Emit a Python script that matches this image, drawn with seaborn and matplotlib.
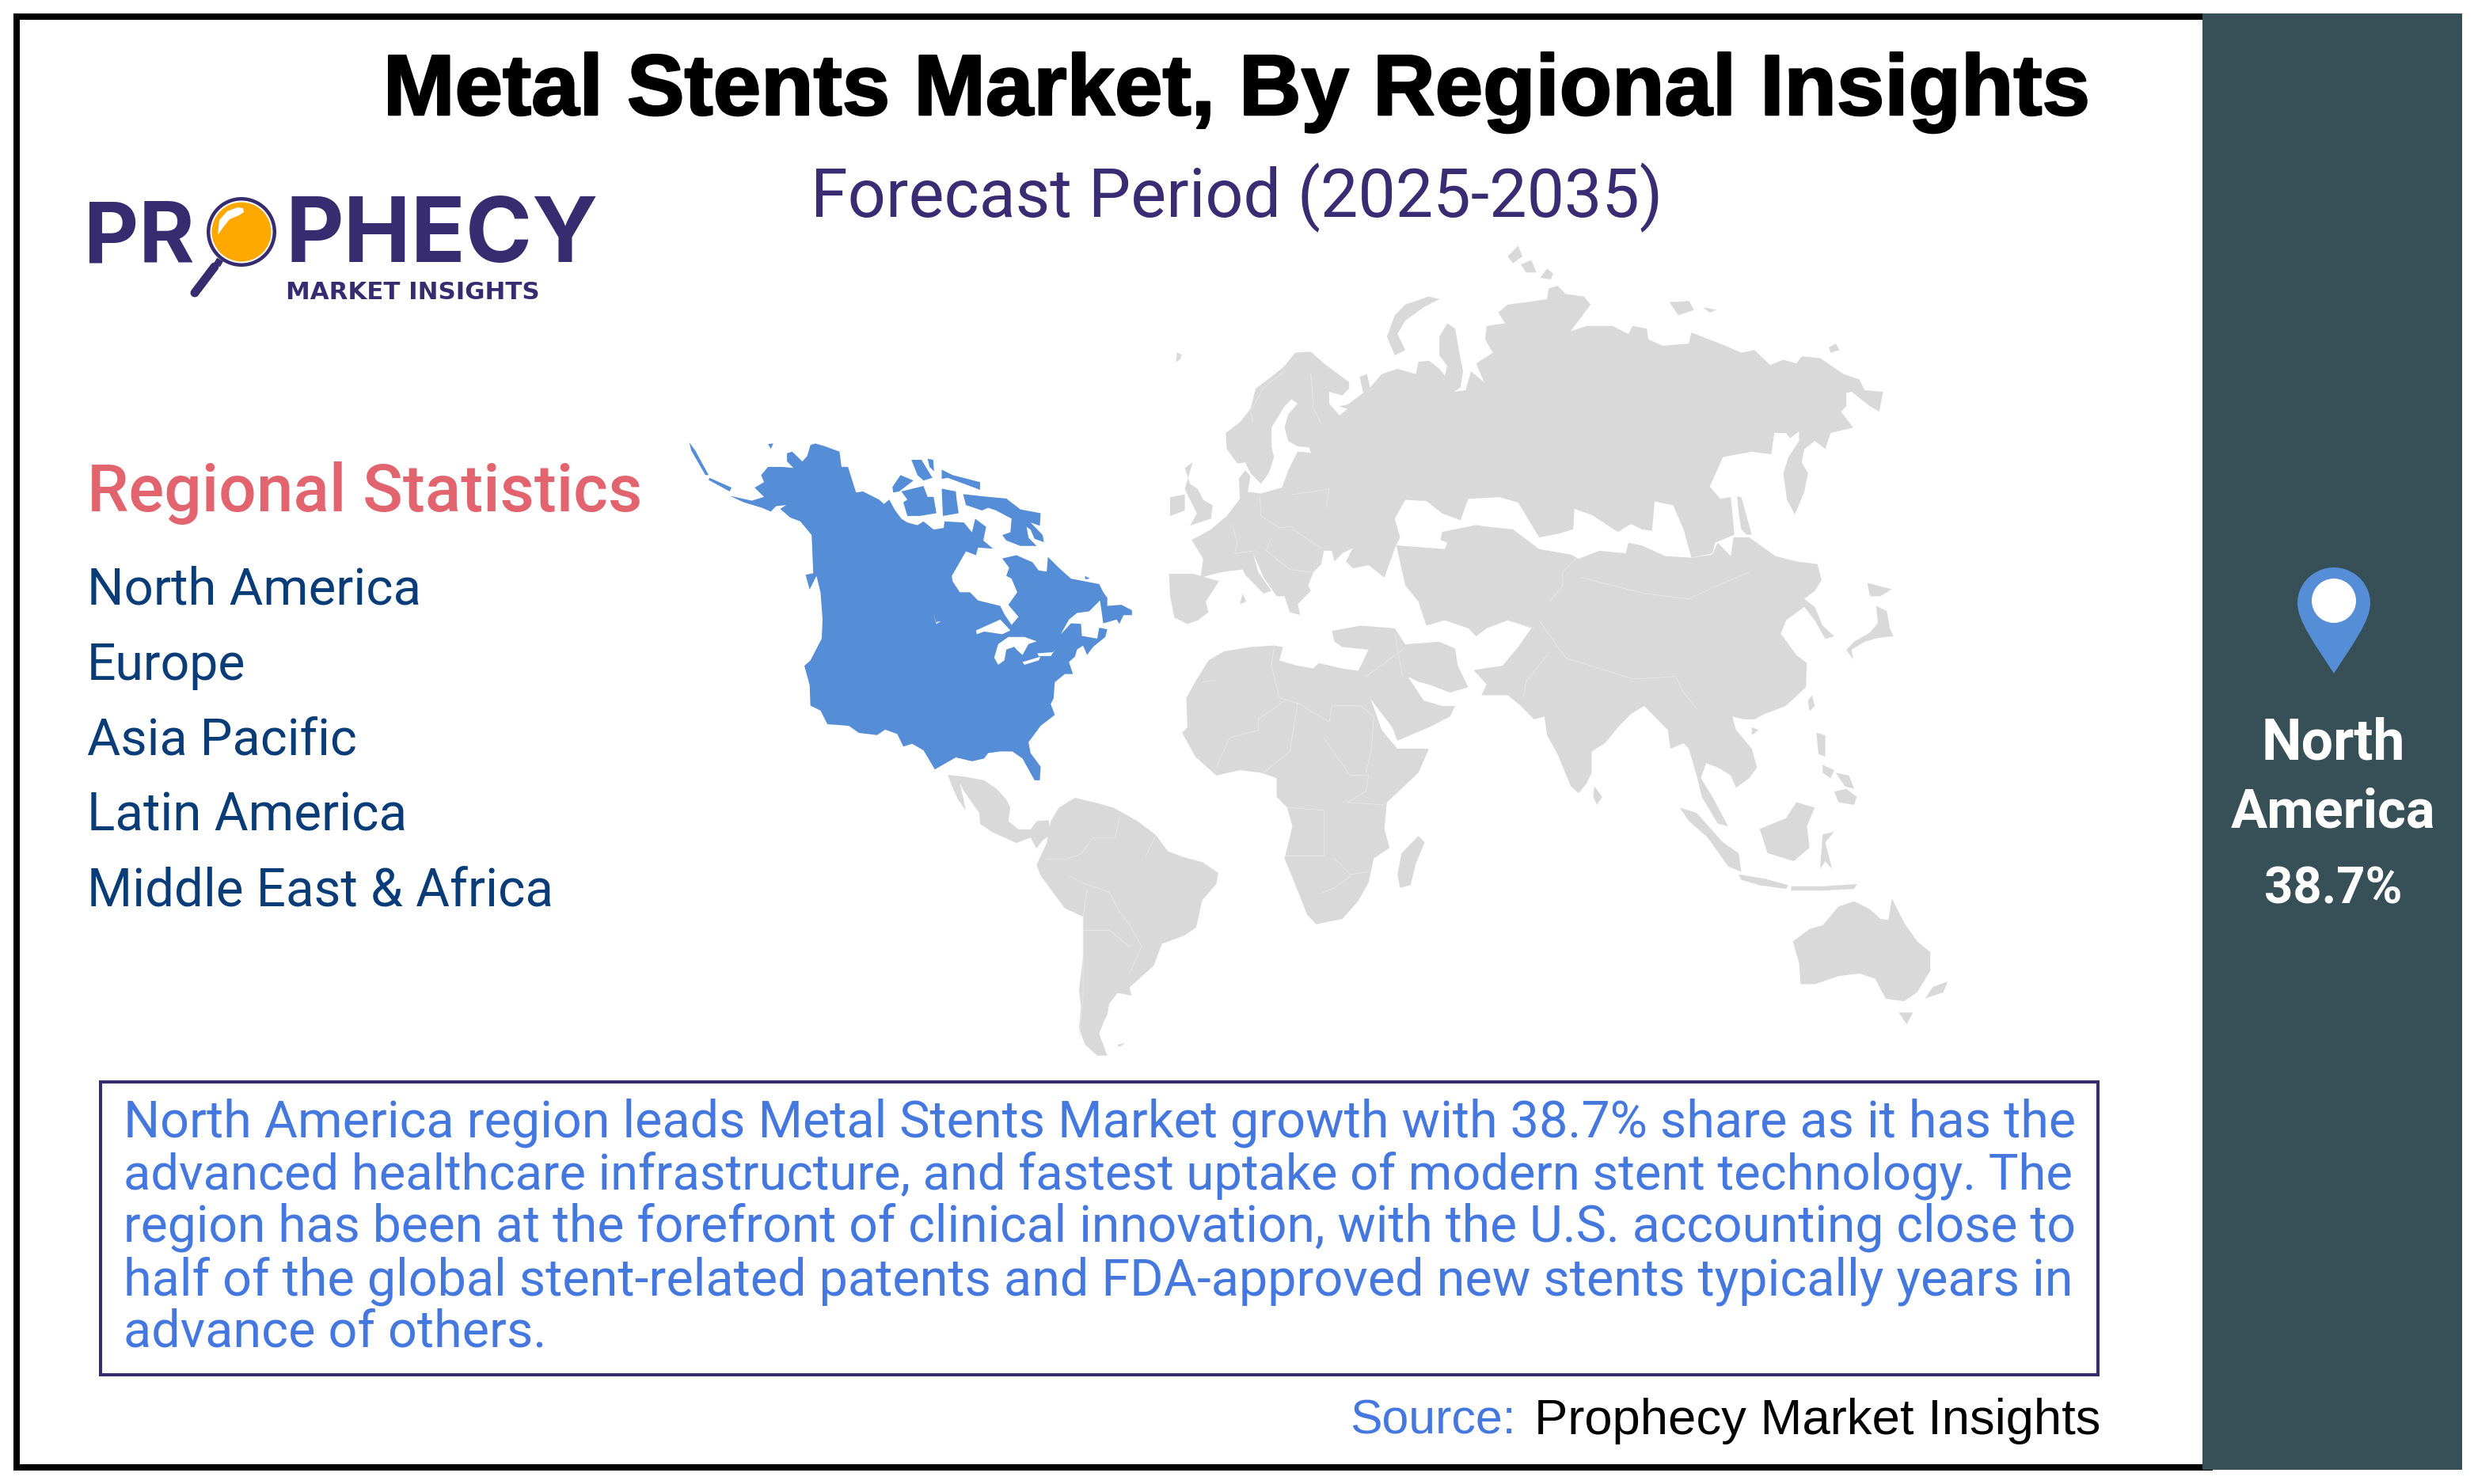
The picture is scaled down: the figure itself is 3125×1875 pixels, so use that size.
import numpy as np
import seaborn as sns
import matplotlib.pyplot as plt
from matplotlib.patches import Rectangle, Circle, PathPatch
from matplotlib.path import Path
import matplotlib.patheffects as pe

TITLE = 'Metal Stents Market, By Regional Insights'
SUBTITLE = 'Forecast Period (2025-2035)'
STATS_HEAD = 'Regional Statistics'
REGIONS = ['North America', 'Europe', 'Asia Pacific', 'Latin America', 'Middle East & Africa']
LEAD_REGION = ['North', 'America']
LEAD_SHARE = '38.7%'
BODY = ['North America region leads Metal Stents Market growth with 38.7% share as it has the',
        'advanced healthcare infrastructure, and fastest uptake of modern stent technology. The',
        'region has been at the forefront of clinical innovation, with the U.S. accounting close to',
        'half of the global stent-related patents and FDA-approved new stents typically years in',
        'advance of others.']

# map outlines (two crops, see to_west / to_east)
NORTH_AMERICA = [(160,503),(215,512),(245,505),(222,488),(245,478),(238,465),(255,450),(290,450),(318,452),(302,440),(302,425),(315,422),(340,440),(352,430),(360,410),(372,407),(395,412),(432,422),(437,450),(453,450),(473,497),(490,495),(530,510),(542,518),(555,510),(570,530),(585,545),(600,552),(625,557),(640,550),(665,565),(690,562),(692,550),(740,552),(760,570),(768,545),(795,560),(788,585),(812,600),(775,598),(770,612),(745,605),(710,650),(712,660),(730,680),(755,680),(775,695),(830,705),(840,720),(858,740),(875,725),(850,703),(872,680),(858,655),(845,650),(852,635),(835,618),(870,612),(910,625),(925,640),(945,642),(948,615),(975,635),(1005,655),(1040,660),(1075,665),(1085,680),(1095,690),(1095,705),(1130,703),(1156,713),(1156,722),(1135,722),(1125,738),(1118,730),(1085,737),(1077,695),(1050,715),(1020,718),(1000,730),(980,757),(1005,737),(1030,738),(1032,760),(1070,765),(1075,745),(1095,748),(1090,762),(1060,780),(1045,795),(1035,778),(1020,785),(1015,798),(1000,808),(1010,830),(990,830),(965,845),(962,875),(955,885),(965,905),(930,925),(900,955),(905,975),(930,1000),(928,1025),(915,1025),(885,985),(860,972),(830,972),(800,975),(790,985),(760,990),(720,983),(668,1005),(640,970),(612,958),(590,963),(575,940),(545,932),(525,942),(480,938),(455,925),(402,922),(385,897),(360,888),(358,850),(345,815),(360,805),(388,765),(390,730),(385,680),(375,650),(358,675),(348,648),(367,645),(363,575),(335,550),(310,543),(285,527),(300,520),(275,522),(262,532),(240,525),(195,515)]
NA_ISLANDS = [[(60,405),(75,420),(108,465),(100,465),(65,420)],
              [(110,470),(165,488),(160,495),(108,474)],
              [(738,500),(800,505),(845,508),(880,528),(930,535),(928,558),(905,552),(935,575),(938,588),(915,582),(905,565),(895,560),(900,580),(920,595),(880,595),(845,585),(835,575),(855,570),(858,545),(820,530),(800,525),(785,530),(745,520)],
              [(585,495),(640,485),(650,505),(665,505),(672,535),(630,540),(600,540),(590,515),(600,510)],
              [(563,487),(583,465),(615,475),(580,495),(565,497)],
              [(610,437),(635,437),(662,470),(640,475),(625,465)],
              [(650,435),(664,437),(666,458),(655,450)],
              [(685,455),(712,465),(780,478),(780,492),(700,470),(685,472)],
              [(685,490),(720,495),(722,510),(727,535),(688,540)],
              [(255,408),(268,407),(262,417)],
              [(1040,650),(1052,655),(1040,656)]]
NA_LAKES = [[(770,750),(800,740),(830,730),(855,750),(835,757),(790,752),(772,757)],
            [(815,800),(825,775),(850,762),(890,762),(920,770),(900,775),(885,795),(870,785),(865,780),(845,785),(840,805),(825,813)],
            [(885,808),(930,798),(925,805),(890,813)],
            [(922,792),(960,790),(966,785),(955,797),(925,797)],
            [(665,720),(670,735),(683,733),(672,738)]]
LATIN_AMERICA = [[(700,1015),(740,1018),(790,1025),(820,1040),(845,1060),(855,1075),(850,1100),(875,1115),(905,1115),(920,1100),(950,1098),(955,1125),(935,1135),(920,1150),(905,1130),(870,1140),(810,1120),(780,1105),(778,1085),(740,1045),(730,1030),(745,1080),(725,1060),(710,1035)],
                 [(955,1100),(975,1075),(1015,1057),(1060,1065),(1110,1075),(1170,1100),(1215,1125),(1245,1155),(1280,1165),(1330,1175),(1370,1195),(1365,1215),(1330,1245),(1315,1295),(1285,1310),(1230,1325),(1210,1365),(1165,1395),(1150,1405),(1155,1420),(1120,1415),(1100,1435),(1095,1455),(1085,1470),(1075,1490),(1090,1520),(1095,1530),(1070,1530),(1040,1510),(1025,1480),(1030,1440),(1025,1410),(1035,1350),(1035,1275),(990,1260),(960,1230),(930,1200),(920,1180),(945,1140)],
                 [(1120,1510),(1140,1507),(1125,1514)],
                 [(1268,240),(1280,245),(1265,258)]]
LATIN_BORDERS = [[(1000,1200),(1040,1215),(1100,1230),(1120,1260),(1150,1290),(1180,1330),(1150,1380)],
                 [(1045,1225),(1035,1275)],[(1035,1275),(1035,1420),(1025,1500)],
                 [(1125,1090),(1115,1130),(1060,1130),(1030,1160),(990,1170),(945,1170)],
                 [(1215,1125),(1190,1165)],[(1035,1300),(1100,1300),(1150,1330)]]
EURASIA = [(55,665),(60,630),(38,595),(75,575),(105,550),(130,518),(128,480),(140,465),(150,475),(145,505),(170,508),(210,497),(222,465),(232,445),(240,430),(265,432),(262,422),(240,420),(222,410),(215,385),(222,360),(240,340),(228,332),(215,345),(190,385),(190,420),(195,440),(185,470),(170,490),(150,470),(140,450),(125,452),(105,425),(103,395),(130,375),(150,350),(160,312),(190,290),(215,270),(235,245),(265,243),(290,265),(338,300),(338,312),(325,325),(300,318),(300,340),(320,362),(335,350),(318,345),(335,342),(365,320),(358,290),(372,285),(378,310),(400,285),(430,275),(465,285),(470,262),(490,260),(510,275),(520,288),(525,270),(510,250),(510,215),(525,190),(540,200),(548,245),(555,280),(550,310),(538,318),(560,315),(570,280),(595,300),(580,265),(612,245),(597,220),(600,195),(635,190),(622,170),(640,155),(680,150),(715,145),(718,125),(735,120),(750,135),(785,140),(798,155),(760,205),(790,195),(840,195),(870,210),(878,195),(905,200),(908,220),(935,232),(985,228),(990,207),(1010,215),(1050,230),(1085,245),(1110,240),(1140,268),(1165,258),(1190,265),(1200,252),(1235,255),(1280,285),(1310,295),(1320,315),(1355,318),(1348,355),(1330,345),(1295,318),(1285,320),(1285,345),(1275,355),(1298,385),(1255,395),(1245,425),(1225,410),(1205,425),(1200,450),(1212,470),(1205,505),(1187,547),(1172,520),(1165,470),(1175,440),(1195,410),(1195,392),(1178,405),(1170,395),(1148,395),(1142,435),(1105,430),(1050,440),(1025,495),(1045,518),(1065,515),(1072,585),(1060,590),(1035,600),(1030,620),(990,628),(975,575),(955,530),(920,523),(915,578),(895,575),(875,565),(850,580),(800,548),(767,537),(765,575),(738,583),(700,590),(660,525),(625,515),(565,518),(550,558),(515,545),(485,522),(445,520),(425,555),(435,590),(425,610),(420,625),(405,665),(375,642),(345,648),(332,635),(345,610),(325,620),(310,635),(305,615),(290,615),(285,640),(270,655),(260,680),(265,690),(240,715),(245,735),(225,730),(215,700),(200,700),(175,665),(155,620),(165,655),(190,690),(175,695),(140,660),(135,650),(95,655)]
ASIA = [(428,605),(520,612),(525,600),(512,595),(515,580),(580,567),(600,570),(650,575),(700,612),(760,622),(775,630),(815,615),(865,620),(870,600),(895,605),(940,625),(990,628),(1030,622),(1040,600),(1065,625),(1070,590),(1100,590),(1150,625),(1190,635),(1230,640),(1238,670),(1225,690),(1205,705),(1225,720),(1240,755),(1262,775),(1245,780),(1225,745),(1205,720),(1170,745),(1130,740),(1155,720),(1175,735),(1160,770),(1190,810),(1210,825),(1208,870),(1170,905),(1130,920),(1110,930),(1090,930),(1068,925),(1075,950),(1105,985),(1115,1020),(1100,1040),(1075,1058),(1065,1035),(1040,1020),(1018,1012),(1008,1040),(1030,1075),(1060,1130),(1040,1125),(1010,1075),(1000,1035),(985,985),(975,975),(950,985),(945,950),(920,925),(900,905),(875,920),(850,945),(825,975),(800,990),(800,1030),(790,1050),(775,1068),(760,1055),(735,995),(715,960),(710,925),(690,930),(665,905),(640,885),(590,885),(600,865),(575,838),(630,830),(660,795),(685,760),(640,745),(600,760),(580,775),(565,760),(520,745),(485,755),(470,710),(445,680)]
MIDDLE_EAST = [(305,765),(360,755),(425,760),(445,790),(510,785),(540,798),(545,830),(565,870),(530,880),(490,865),(470,860),(450,850),(480,895),(515,905),(540,905),(530,925),(490,945),(430,970),(420,945),(385,900),(350,850),(375,800),(325,795),(310,785)]
AFRICA = [(70,820),(100,803),(150,795),(195,792),(212,795),(205,820),(240,830),(270,835),(280,825),(325,835),(360,840),(375,880),(400,950),(430,985),(470,985),(490,985),(470,1030),(410,1085),(405,1135),(415,1170),(385,1190),(375,1235),(355,1270),(325,1303),(275,1313),(258,1295),(240,1250),(215,1190),(230,1130),(220,1095),(200,1075),(200,1040),(170,1030),(130,1025),(85,1035),(45,1000),(20,955),(30,945),(28,890),(45,860)]
AUSTRALIA = [(1183,1345),(1215,1322),(1240,1315),(1270,1280),(1300,1270),(1330,1285),(1350,1303),(1365,1305),(1372,1265),(1395,1310),(1420,1345),(1445,1365),(1445,1400),(1420,1440),(1395,1457),(1360,1452),(1340,1415),(1310,1405),(1270,1410),(1225,1425),(1198,1425),(1195,1385)]
ISLANDS = [[(-5,658),(40,658),(90,672),(65,710),(70,730),(50,745),(30,752),(5,740),(-3,700)],
           [(40,450),(25,460),(35,490),(50,500),(60,520),(78,530),(75,555),(35,568),(48,545),(35,520),(25,500)],
           [(-3,515),(25,510),(25,540),(-3,550)],
           [(410,215),(425,175),(445,155),(490,140),(510,145),(480,160),(445,185),(430,210),(445,240),(425,250)],
           [(640,65),(660,45),(668,65),(650,78)],[(665,80),(685,72),(695,95),(675,95)],[(702,105),(715,88),(727,97),(722,108)],
           [(948,150),(965,150),(985,148),(995,165),(965,175)],[(1012,160),(1038,165),(1025,170)],
           [(1252,235),(1265,228),(1272,240),(1255,245)],
           [(1077,513),(1085,515),(1105,585),(1095,585),(1085,575),(1080,545)],
           [(470,1148),(482,1160),(465,1200),(455,1240),(435,1245),(430,1220),(438,1180)],
           [(805,1055),(820,1075),(810,1090),(803,1075)],
           [(1325,675),(1372,687),(1350,700),(1330,700)],
           [(1342,718),(1362,728),(1368,760),(1375,775),(1345,778),(1320,785),(1295,800),(1298,818),(1285,800),(1300,785),(1330,768),(1345,750)],
           [(1220,885),(1225,905),(1215,915),(1212,895)],[(1105,945),(1118,950),(1105,960)],
           [(1228,955),(1245,960),(1245,1000),(1232,995)],
           [(1240,1015),(1262,1025),(1255,1040),(1240,1030)],
           [(1265,1030),(1290,1035),(1300,1060),(1282,1055)],
           [(1262,1065),(1285,1060),(1305,1075),(1300,1090),(1270,1085)],
           [(1120,1135),(1170,1115),(1190,1085),(1225,1095),(1210,1130),(1215,1170),(1185,1195),(1135,1180)],
           [(968,1095),(1000,1105),(1050,1160),(1080,1180),(1085,1215),(1060,1205),(1020,1150),(985,1120)],
           [(1080,1220),(1130,1228),(1175,1240),(1170,1247),(1120,1240),(1085,1230)],
           [(1180,1242),(1240,1242),(1305,1238),(1300,1247),(1240,1250),(1180,1250)],
           [(1240,1145),(1262,1140),(1245,1160),(1258,1210),(1245,1195),(1235,1210)],
           [(1385,1478),(1412,1478),(1400,1500)],
           [(1478,1420),(1470,1440),(1435,1452),(1450,1430)],
           [(10,245),(18,255),(10,262)],[(135,695),(142,710),(130,715)]]
BORDERS = [[(60,860),(85,858)],[(195,795),(190,830),(205,890),(240,900),(300,935),(305,905),(360,905),(385,925),(380,990),(370,1030)],
           [(215,895),(165,930),(165,950),(110,965),(85,1020)],[(240,900),(225,990),(175,1030)],
           [(290,965),(340,1035),(375,1035),(370,1065),(335,1085),(405,1090)],[(220,1095),(290,1100),(290,1185),(215,1185)],
           [(310,1190),(340,1220),(375,1215)],[(345,1220),(310,1245),(285,1255)],
           [(168,515),(170,550),(205,572),(230,570)],[(155,375),(150,355),(175,310),(215,280)],[(265,285),(270,350),(285,378)],
           [(230,510),(300,500),(295,535)],[(115,565),(125,600),(120,620),(160,615)],[(190,590),(180,615),(225,650),(265,655)],[(230,575),(285,610)],
           [(770,630),(745,655),(745,680),(720,710)],[(780,665),(900,695),(985,705),(1040,680),(1100,655)],
           [(700,745),(750,815),(880,855),(960,850),(975,880),(1000,910)],[(640,745),(690,760)],[(715,810),(675,860),(670,890)],
           [(425,770),(440,850)],[(370,850),(440,800)]]
LOGO_SHINE = [(275,297),(277,278),(287,267),(300,262),(307,263),(308,268),(302,272),(290,277),(282,287)]

PANEL = '#374f56'
INK = '#382c70'
BLUE = '#558dd6'
LAND = '#d9d9d9'
LAND_LINE = '#ebebeb'
BODY_BLUE = '#4478df'
NAVY = '#0a3d78'
CORAL = '#e2646f'
PX = 72 / 300  # one image pixel in points


def to_west(pts):
    a = np.array(pts, dtype=float)
    return 840 + a[:, 0] / 1.96, 280 + a[:, 1] / 1.452


def to_east(pts):
    a = np.array(pts, dtype=float)
    return 1480 + a[:, 0] / 1.508, 280 + a[:, 1] / 1.479


def land(pts, conv, color):
    x, y = conv(pts)
    ax.fill(x, y, color=color, lw=0)


def put(x, y, s, size, color, family='Roboto', weight='normal', width=None, ha='left'):
    t = ax.text(x, y, s, fontsize=size, color=color, family=family, weight=weight, ha=ha, va='baseline')
    if width:
        w = t.get_window_extent(fig.canvas.get_renderer()).width
        t.set_fontsize(size * width / w)
    return t


sns.set_theme(style='white', rc={'axes.facecolor': 'white', 'figure.facecolor': 'white'})
fig = plt.figure(figsize=(3125 / 300, 1875 / 300), dpi=300)
ax = fig.add_axes([0, 0, 1, 1])
ax.set_xlim(0, 3125)
ax.set_ylim(1875, 0)
ax.set_xticks([])
ax.set_yticks([])
sns.despine(ax=ax, left=True, bottom=True)

# frame and side panel
ax.add_patch(Rectangle((21, 21), 2770, 1833, fill=False, ec='black', lw=8 * PX, joinstyle='miter'))
ax.add_patch(Rectangle((2782, 17), 328, 1840, fc=PANEL, ec='none', zorder=3))

# map
land(NORTH_AMERICA, to_west, BLUE)
for p in NA_ISLANDS:
    land(p, to_west, BLUE)
for p in NA_LAKES:
    land(p, to_west, 'white')
for p in LATIN_AMERICA:
    land(p, to_west, LAND)
for p in [EURASIA, ASIA, MIDDLE_EAST, AFRICA, AUSTRALIA] + ISLANDS:
    land(p, to_east, LAND)
for b in LATIN_BORDERS:
    ax.plot(*to_west(b), color=LAND_LINE, lw=0.7 * PX)
for b in BORDERS:
    ax.plot(*to_east(b), color=LAND_LINE, lw=0.7 * PX)

# headings
t = put(484, 145, TITLE, 30, 'black', family='Liberation Sans', weight='bold', width=2156)
t.set_path_effects([pe.withStroke(linewidth=2.5 * PX, foreground='black')])
put(1024, 274, SUBTITLE, 20, '#3a2c73', width=1077)

# logo
put(106, 331, 'PR', 28, INK, family='Inter', weight='bold', width=140)
put(361, 331, 'PHECY', 28, INK, family='Inter', weight='bold', width=396)
put(361, 378, 'MARKET INSIGHTS', 7, INK, family='DejaVu Sans', weight='bold', width=320)
ax.plot([271, 246], [337, 370], color=INK, lw=11 * PX, solid_capstyle='round')
ax.plot([278, 274], [328, 335], color=INK, lw=9 * PX, solid_capstyle='butt')
ax.add_patch(Circle((305, 293), 44, fc=INK, ec='none'))
ax.add_patch(Circle((305, 293), 39.5, fc='white', ec='none'))
ax.add_patch(Circle((305, 293), 37.5, fc='#ffa800', ec='none'))
ax.fill(*np.array(LOGO_SHINE).T, color='white', lw=0)

# regional list
put(110, 646, STATS_HEAD, 20, CORAL, weight='medium', width=702)
for name, y, w in zip(REGIONS, [764, 859, 954, 1049, 1145], [423, 201, 341, 405, 590]):
    put(110, y, name, 17, NAVY, width=w)

# description box
ax.add_patch(Rectangle((127, 1367), 2523, 370, fill=False, ec=INK, lw=4 * PX, joinstyle='miter'))
# the first four lines are justified in the original
for line, y in zip(BODY[:4], [1436, 1502, 1569, 1636]):
    t = put(156, y, line, 14, BODY_BLUE, width=2466)
put(156, 1702, BODY[4], t.get_fontsize(), BODY_BLUE)

# source
put(1705, 1812, 'Source:', 15, BODY_BLUE, family='Liberation Sans', width=210)
put(1938, 1812, 'Prophecy Market Insights', 15, 'black', family='Liberation Sans', width=716)

# side panel content
pin = Path([(2948, 851), (2925, 815), (2902, 785), (2902, 762), (2902, 737), (2923, 717), (2948, 717),
            (2973, 717), (2994, 737), (2994, 762), (2994, 785), (2971, 815), (2948, 851)],
           [Path.MOVETO] + [Path.CURVE4] * 12)
ax.add_patch(PathPatch(pin, fc=BLUE, ec='none', zorder=4))
ax.add_patch(Circle((2948, 759), 28, fc='white', ec='none', zorder=5))
for s, y, w in zip(LEAD_REGION, [960, 1045], [182, 259]):
    put(2947, y, s, 17, 'white', weight='bold', width=w, ha='center').set_zorder(5)
put(2947, 1141, LEAD_SHARE, 15, 'white', weight='bold', width=175, ha='center').set_zorder(5)

fig.savefig('out.png', dpi=300, facecolor='white')
